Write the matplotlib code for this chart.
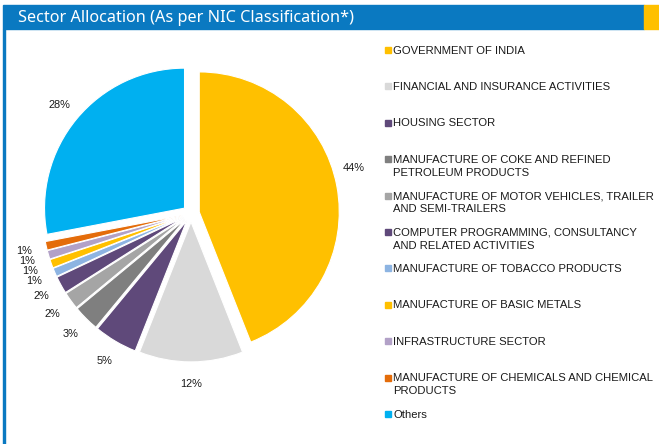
import numpy as np
import matplotlib
matplotlib.use("Agg")
from matplotlib import pyplot as plt
from matplotlib.patches import Rectangle

# sector allocation data
sectors = [
    "GOVERNMENT OF INDIA",
    "FINANCIAL AND INSURANCE ACTIVITIES",
    "HOUSING SECTOR",
    "MANUFACTURE OF COKE AND REFINED\nPETROLEUM PRODUCTS",
    "MANUFACTURE OF MOTOR VEHICLES, TRAILER\nAND SEMI-TRAILERS",
    "COMPUTER PROGRAMMING, CONSULTANCY\nAND RELATED ACTIVITIES",
    "MANUFACTURE OF TOBACCO PRODUCTS",
    "MANUFACTURE OF BASIC METALS",
    "INFRASTRUCTURE SECTOR",
    "MANUFACTURE OF CHEMICALS AND CHEMICAL\nPRODUCTS",
    "Others",
]
shares = [44, 12, 5, 3, 2, 2, 1, 1, 1, 1, 28]
colors = ["#FFC000", "#D9D9D9", "#5F497A", "#7F7F7F", "#A5A5A5", "#5F497A",
          "#8DB4E2", "#FFC000", "#B2A1C7", "#E46C0A", "#00B0F0"]

W, H = 659, 444
fig = plt.figure(figsize=(W / 100, H / 100), dpi=100)
fig.patch.set_facecolor("white")

def fx(px):
    return px / W

def fy(py):
    return 1 - py / H

# header bar
fig.patches.append(Rectangle((fx(3), fy(29)), fx(644) - fx(3), fy(5) - fy(29),
                             transform=fig.transFigure, color="#0A79C1", zorder=0))
fig.patches.append(Rectangle((fx(644), fy(29)), fx(659) - fx(644), fy(5) - fy(29),
                             transform=fig.transFigure, color="#FFC000", zorder=0))
fig.patches.append(Rectangle((fx(3), 0), fx(1.6), fy(29),
                             transform=fig.transFigure, color="#0A79C1", zorder=0))
fig.text(fx(18), fy(17.5), "Sector Allocation (As per NIC Classification*)",
         color="white", fontsize=11.7, family="Noto Sans", va="center", ha="left")

# pie
cx, cy, R, half = 191, 213.5, 140, 180
ax = fig.add_axes([fx(cx - half), fy(cy + half), 2 * half / W, 2 * half / H])
wedges, texts, autotexts = ax.pie(
    shares, colors=colors, startangle=90, counterclock=False,
    explode=[0.06] * len(shares),
    autopct=lambda p: "%.0f%%" % p, pctdistance=1.16,
    wedgeprops=dict(edgecolor="white", linewidth=0.8),
    textprops=dict(fontsize=7.9, family="Liberation Sans", color="#1a1a1a"))

# the big slice's label sits a little higher, as in the original
w0 = wedges[0]
ang = np.deg2rad((w0.theta1 + w0.theta2) / 2 + 5)
autotexts[0].set_position((w0.center[0] + 1.15 * np.cos(ang),
                           w0.center[1] + 1.15 * np.sin(ang)))

L = half / R
ax.set_xlim(-L, L)
ax.set_ylim(-L, L)
ax.axis("off")

# legend
for i, (name, col) in enumerate(zip(sectors, colors)):
    y = 50 + 36.4 * i
    fig.patches.append(Rectangle((fx(385), fy(y + 3)), fx(6), fy(0) - fy(6),
                                 transform=fig.transFigure, color=col))
    fig.text(fx(393), fy(y - 4.5), name, fontsize=8.1, family="Liberation Sans",
             color="#1a1a1a", va="top", ha="left", linespacing=1.4)

fig.savefig("out.png", dpi=100)
